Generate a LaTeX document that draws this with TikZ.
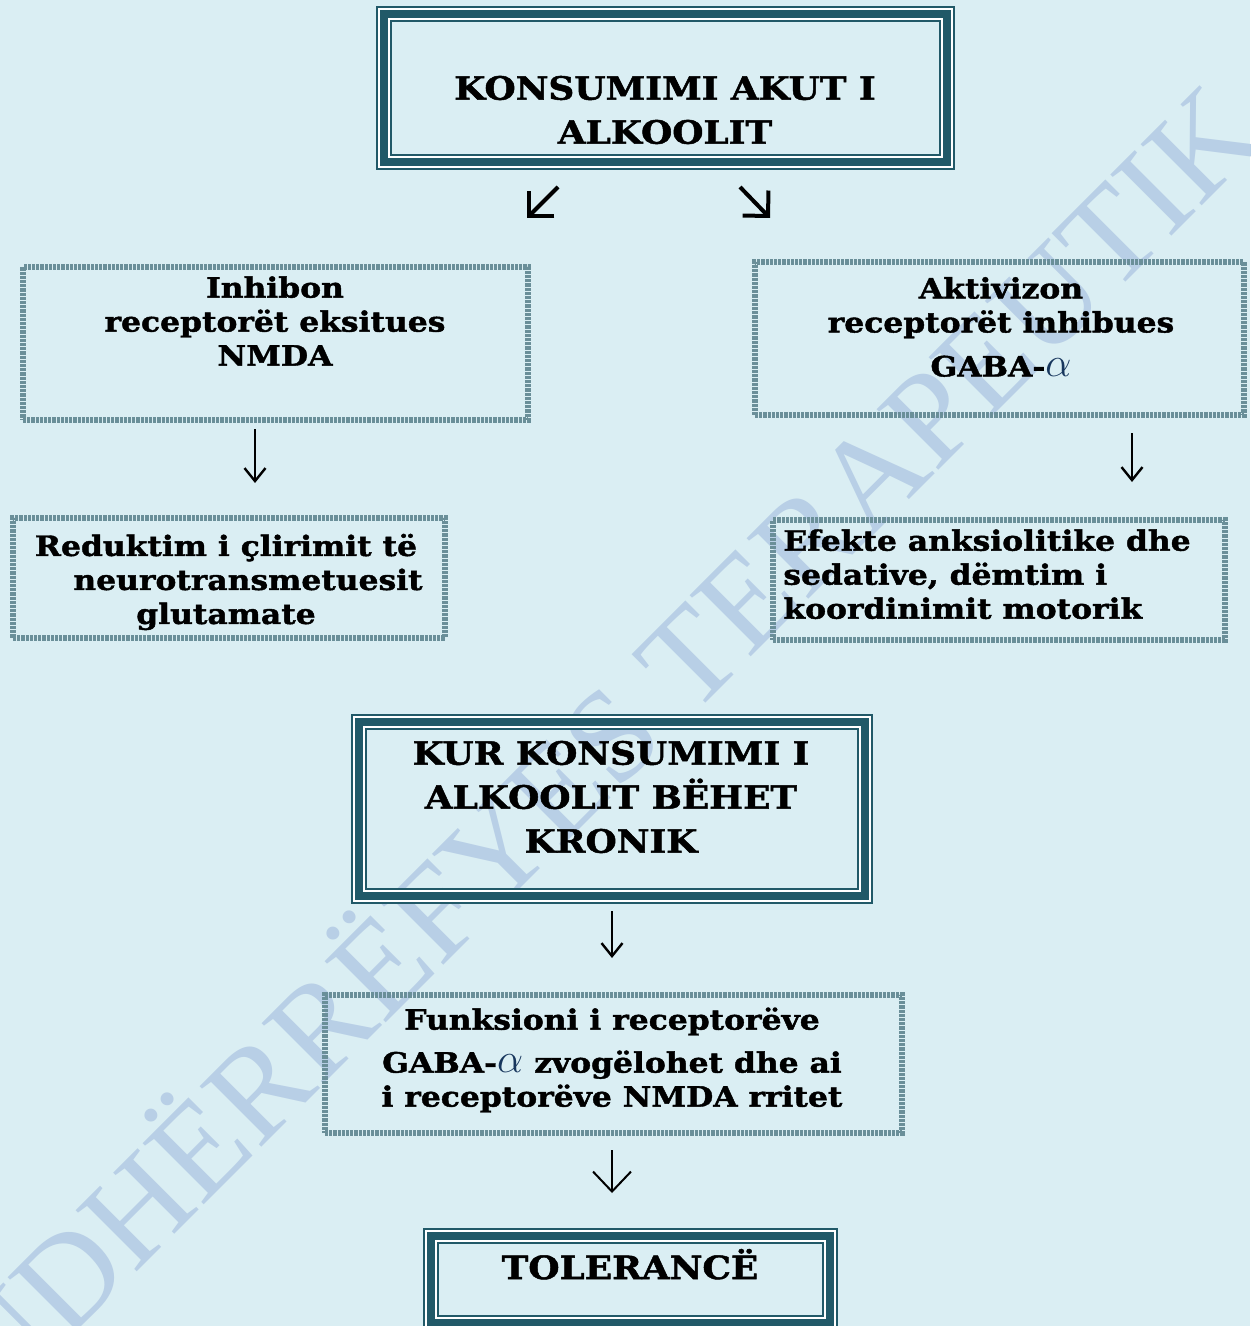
\documentclass[tikz,border=0pt]{standalone}
\usepackage{fontspec}
\setmainfont{DejaVu Serif}
\newfontfamily\heavyfont{DejaVu Serif Bold}[FakeStretch=1.12, FakeBold=1.5]
\newfontfamily\markfont{Liberation Serif}
\usetikzlibrary{arrows.meta}

\definecolor{pagebg}{HTML}{DAEEF3}
\definecolor{framecol}{HTML}{215968}
\definecolor{hatchcol}{HTML}{6A8F99}
\definecolor{markcol}{HTML}{B8CFE6}
\definecolor{alphacol}{HTML}{17365D}

\newcommand{\galpha}{{\color{alphacol}\fontsize{22}{22}\selectfont$\alpha$}}

\tikzset{
    framebox/.style={draw=framecol, line width=4pt, inner sep=0pt,
        preaction={draw=framecol, line width=1pt, double=white, double distance=6pt}},
    hatchbox/.style={draw=hatchcol, line width=2.8pt, dash pattern=on 1.6pt off 0.5pt, inner sep=0pt},
    bigtext/.style={font=\heavyfont\fontsize{16}{22}\selectfont, align=center, inner sep=0pt},
    smalltext/.style={font=\heavyfont\fontsize{14}{17}\selectfont, align=center, inner sep=0pt},
    watermark/.style={rotate=45, text=markcol, inner sep=0pt, font=\markfont\fontsize{66}{66}\selectfont},
    diag arrow/.style={-{Straight Barb[length=9pt,width=18pt]}, line width=2pt, line join=miter},
    down arrow/.style={-{Straight Barb[length=6.5pt,width=10.5pt]}, line width=1.2pt},
    open arrow/.style={-{Straight Barb[length=10pt,width=19pt]}, line width=1pt}
}

\begin{document}
\begin{tikzpicture}[x=0.5pt, y=-0.5pt]
    % Page
    \path[use as bounding box, fill=pagebg] (0,0) rectangle (1250,1326);
    \clip (0,0) rectangle (1250,1326);
    \node[watermark] (mark) at (596,738) {UDHËRRËFYES TERAPEUTIK};

    % Acute consumption
    \node[framebox, minimum width=281.5pt, minimum height=74pt] (acute) at (665.5,88) {};
    \node[bigtext] (acute-txt) at (665,110) {KONSUMIMI AKUT I\\ALKOOLIT};

    % First effects
    \node[hatchbox, minimum width=252.5pt, minimum height=76.5pt] (inhibit) at (275.5,343.5) {};
    \node[smalltext] (inhibit-txt) at (275,321) {Inhibon\\receptorët eksitues\\NMDA};
    \node[hatchbox, minimum width=244.5pt, minimum height=76.5pt] (activate) at (999.5,338.5) {};
    \node[smalltext] (activate-txt) at (1001,327) {Aktivizon\\receptorët inhibues\\[5pt]GABA-\galpha};

    % Second effects
    \node[hatchbox, minimum width=216pt, minimum height=60pt] (glutamate) at (229,578) {};
    \node[smalltext] (glutamate-txt) at (226,582)
        {Reduktim i çlirimit të\\\hspace*{22pt}neurotransmetuesit\\glutamate};
    \node[hatchbox, minimum width=226pt, minimum height=60pt] (sedation) at (999,580) {};
    \node[smalltext, align=left, anchor=north west] (sedation-txt) at (783,529)
        {Efekte anksiolitike dhe\\sedative, dëmtim i\\koordinimit motorik};

    % Chronic consumption
    \node[framebox, minimum width=253pt, minimum height=87pt] (chronic) at (612,809) {};
    \node[bigtext] (chronic-txt) at (611,797) {KUR KONSUMIMI I\\ALKOOLIT BËHET\\KRONIK};
    \node[hatchbox, minimum width=288.5pt, minimum height=69pt] (receptors) at (613.5,1064) {};
    \node[smalltext] (receptors-txt) at (612,1060)
        {Funksioni i receptorëve\\[4.5pt]GABA-\galpha{} zvogëlohet dhe ai\\[0pt]i receptorëve NMDA rritet};
    \node[framebox, minimum width=199.5pt, minimum height=43.5pt] (tolerance) at (630.5,1279.5) {};
    \node[bigtext, anchor=base] (tolerance-txt) at (630,1279) {TOLERANCË};

    % Arrows
    \coordinate (acute-left) at (558,187);
    \coordinate (inhibit-top) at (527,218);
    \coordinate (acute-right) at (740,187);
    \coordinate (activate-top) at (770,218);
    \draw[diag arrow] (acute-left) -- (inhibit-top);
    \draw[diag arrow] (acute-right) -- (activate-top);
    \coordinate (inhibit-out) at (255,429);
    \coordinate (glutamate-in) at (255,483);
    \coordinate (activate-out) at (1132,433);
    \coordinate (sedation-in) at (1132,482);
    \coordinate (chronic-out) at (612,911);
    \coordinate (receptors-in) at (612,958);
    \foreach \a/\b in {inhibit-out/glutamate-in, activate-out/sedation-in, chronic-out/receptors-in}
        \draw[down arrow] (\a) -- (\b);
    \coordinate (receptors-out) at (612,1150);
    \coordinate (tolerance-in) at (612,1193);
    \draw[open arrow] (receptors-out) -- (tolerance-in);
\end{tikzpicture}
\end{document}
